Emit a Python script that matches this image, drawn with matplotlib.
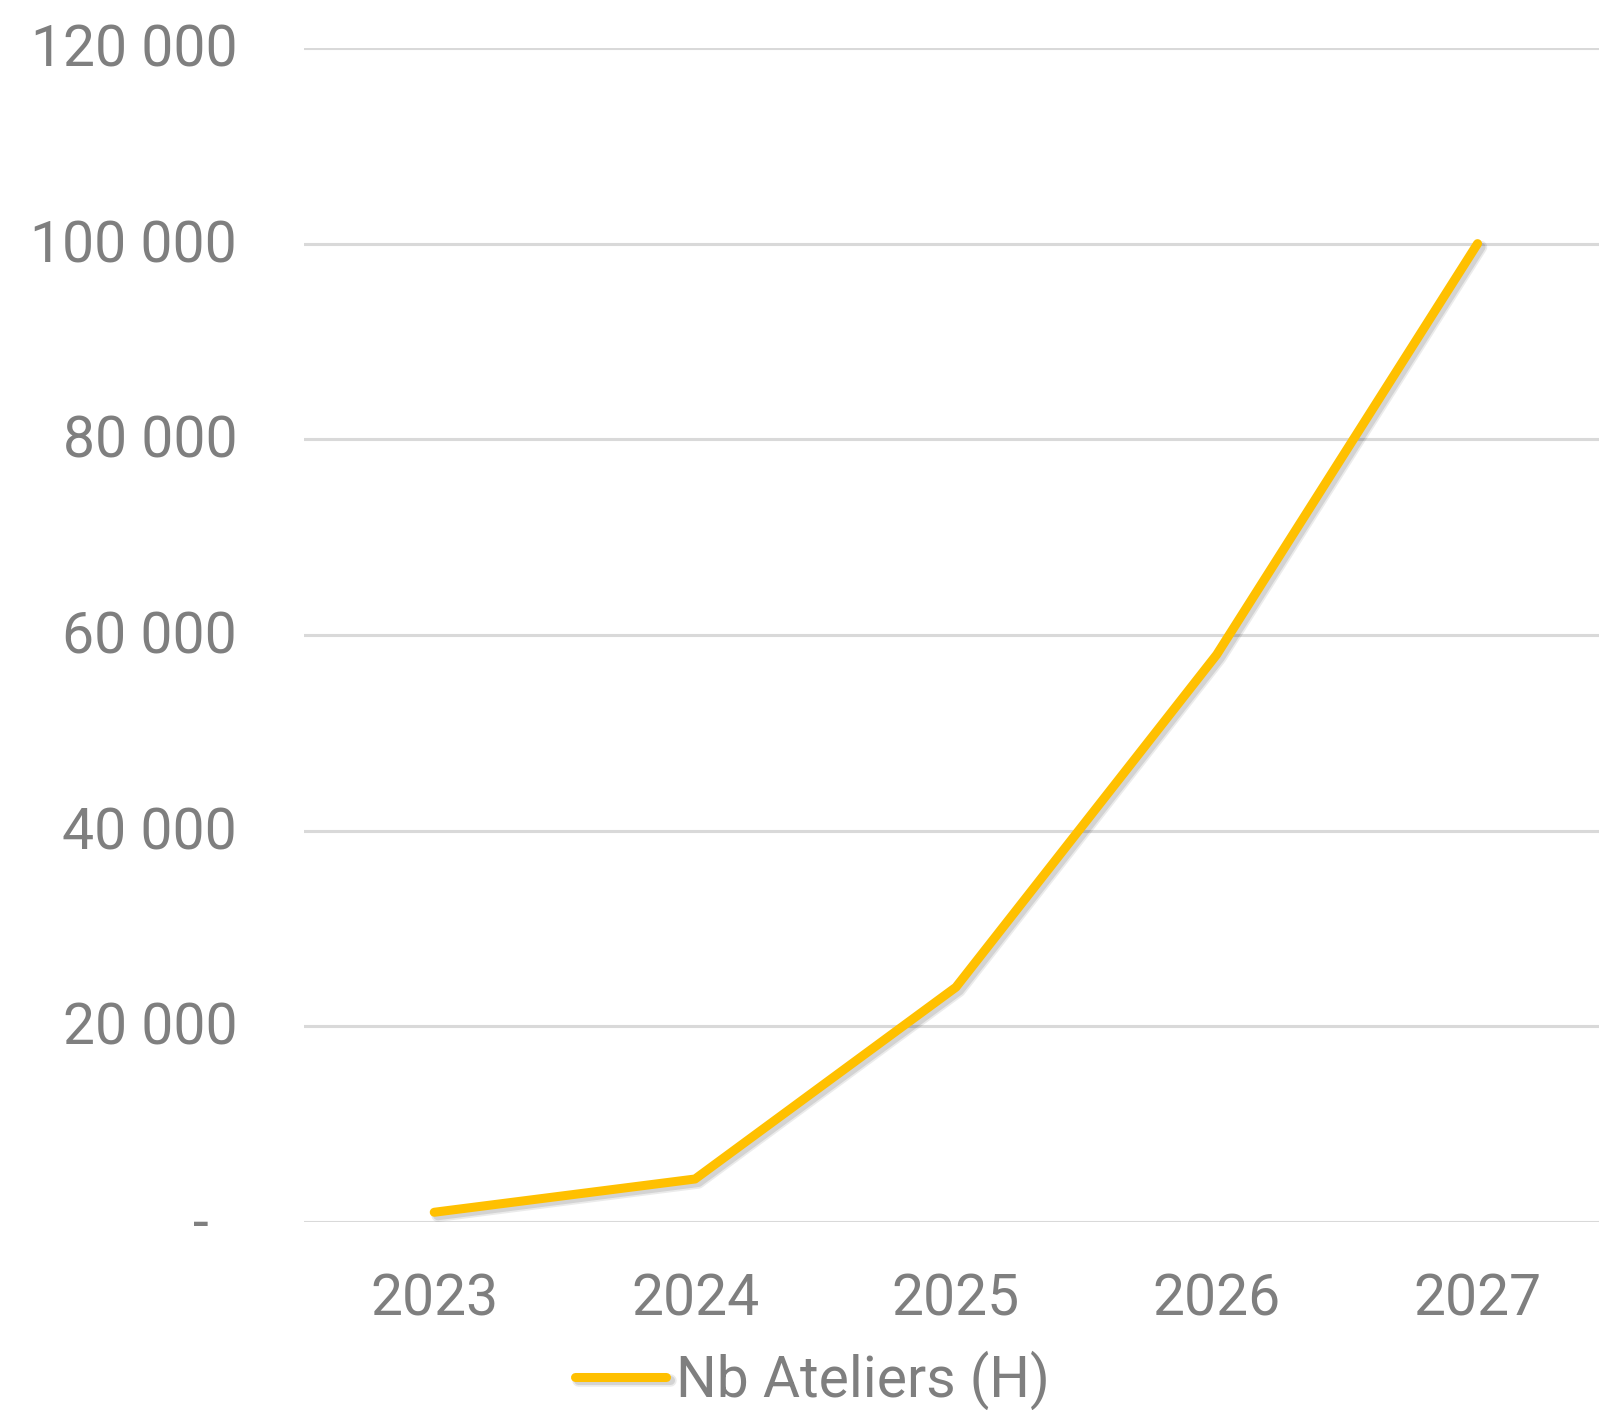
import matplotlib
matplotlib.use("Agg")
import matplotlib.pyplot as plt
import matplotlib.patheffects as pe
import matplotlib.transforms as mtransforms
from matplotlib.ticker import FixedLocator, FixedFormatter

years = ["2023", "2024", "2025", "2026", "2027"]
ateliers = [1000, 4400, 24000, 58000, 100000]
series_name = "Nb Ateliers (H)"
y_ticks = [0, 20000, 40000, 60000, 80000, 100000, 120000]
y_labels = ["-  ", "20 000", "40 000", "60 000", "80 000", "100 000", "120 000"]

plt.rcParams['font.family'] = ['Roboto', 'DejaVu Sans']
gray = "#7F7F7F"

fig = plt.figure(figsize=(15.99, 14.10), dpi=100)
ax = fig.add_axes([0.190, 0.1333, 0.810, 0.8327])

x = list(range(len(years)))
ax.plot(x, ateliers, color="#FFC000", lw=6.5, solid_capstyle="round", solid_joinstyle="round",
        label=series_name, zorder=3,
        path_effects=[pe.SimpleLineShadow(offset=(2.5, -2.5), shadow_color="#000000", alpha=0.08,
                                          linewidth=9),
                      pe.SimpleLineShadow(offset=(2.5, -2.5), shadow_color="#000000", alpha=0.10),
                      pe.Normal()])

ax.set_ylim(0, 120000)
ax.set_xlim(-0.5, 4.5 - 9 / 261)
ax.yaxis.set_major_locator(FixedLocator(y_ticks))
ax.yaxis.set_major_formatter(FixedFormatter(y_labels))
ax.set_xticks(x)
ax.set_xticklabels(years)
ax.grid(axis="y", color="#D9D9D9", lw=2.2)
ax.set_axisbelow(True)
for s in ax.spines.values():
    s.set_visible(False)
ax.tick_params(axis="both", length=0, labelsize=41, labelcolor=gray)
ax.tick_params(axis="y", pad=48)
ax.tick_params(axis="x", pad=36)

shift = mtransforms.ScaledTranslation(0, 3 / 100, fig.dpi_scale_trans)
for lab in ax.get_yticklabels():
    lab.set_transform(lab.get_transform() + shift)

leg = fig.legend(loc="center", bbox_to_anchor=(0.508, 1 - 1380 / 1410), frameon=False,
                 fontsize=41, labelcolor=gray, handlelength=1.6, handletextpad=0.17,
                 borderpad=0, borderaxespad=0)

fig.savefig("out.png", dpi=100)
